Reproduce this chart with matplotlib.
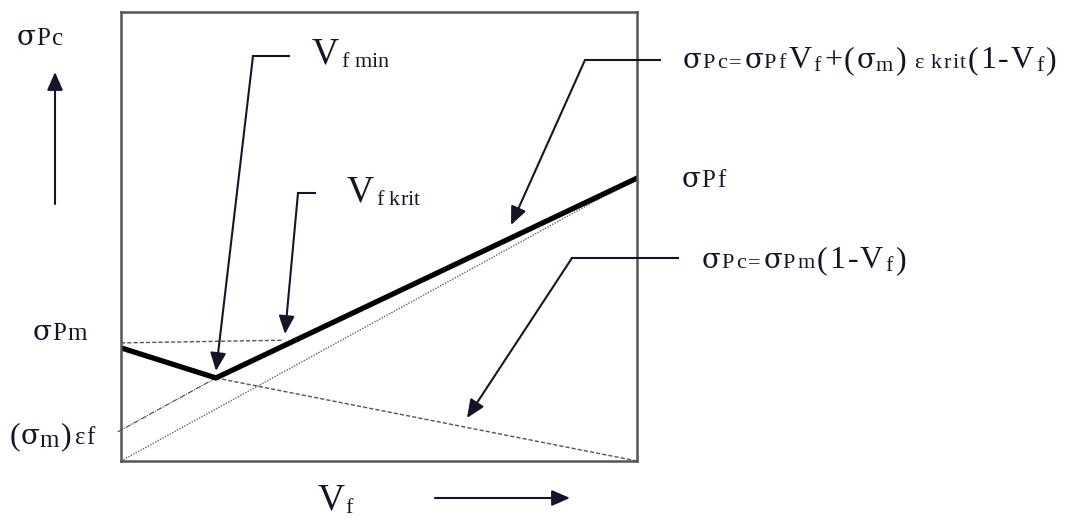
import matplotlib
matplotlib.use("Agg")
import matplotlib.pyplot as plt
from matplotlib.lines import Line2D

W, H = 1074, 519
ink = "#15152a"
serif = "Liberation Serif"
greek = "DejaVu Serif"

# normalised diagram values: Vf on x (0..1), stress on y (0..1)
sigma_pm = 0.263
sigma_pf = 0.630
sigma_m_eps_f = 0.069
vf_min = 0.184
sigma_at_min = 0.185
sigma_comp_start = 0.252
vf_krit = 0.312
sigma_krit = 0.269

composite_vf = [0.0, vf_min, 1.0]
composite_sigma = [sigma_comp_start, sigma_at_min, sigma_pf]
matrix_vf = [vf_min, 1.0]
matrix_sigma = [sigma_at_min, 0.0]
fibre_vf = [0.0, 1.0]
fibre_sigma = [0.0, sigma_pf]
eps_vf = [-0.006, vf_min]
eps_sigma = [sigma_m_eps_f - 0.004, sigma_at_min]
pm_vf = [0.0, vf_krit]
pm_sigma = [sigma_pm, sigma_krit]


def px(x, y):
    return x / W, 1 - y / H


fig = plt.figure(figsize=(W / 100, H / 100), dpi=100)
fig.patch.set_facecolor("white")
ax = fig.add_axes([121 / W, 1 - 461 / H, 516 / W, 449 / H])
ax.set_xlim(0, 1)
ax.set_ylim(0, 1)
ax.set_xticks([])
ax.set_yticks([])
for sp in ax.spines.values():
    sp.set_color("#555555")
    sp.set_linewidth(1.8)

ax.plot(fibre_vf, fibre_sigma, color="#666666", lw=1.0, ls=(0, (1, 1)))
ax.plot(matrix_vf, matrix_sigma, color="#555555", lw=1.0, ls=(0, (3, 1.5)))
ax.plot(pm_vf, pm_sigma, color="#555555", lw=1.0, ls=(0, (3, 1.5)))
ax.plot(eps_vf, eps_sigma, color="#444444", lw=0.8, ls=(0, (5, 1, 1, 1)), clip_on=False)
ax.plot(composite_vf, composite_sigma, color="black", lw=3.8, solid_joinstyle="miter")

arrow = dict(arrowstyle="-|>,head_length=0.55,head_width=0.24", mutation_scale=20,
             lw=1.5, color=ink, shrinkA=0, shrinkB=0)


def leader(tip, corner, end):
    fig.add_artist(Line2D([corner[0] / W, end[0] / W], [1 - corner[1] / H] * 2,
                          transform=fig.transFigure, color=ink, lw=1.5))
    ax.annotate("", xy=px(*tip), xycoords="figure fraction",
                xytext=px(*corner), textcoords="figure fraction",
                arrowprops=arrow, annotation_clip=False)


leader((216, 371), (253, 56), (289, 56))
leader((285, 334), (298, 193), (315, 193))
leader((511, 225), (585, 60), (660, 60))
leader((467, 418), (572, 258), (678, 258))

# axis direction arrows
ax.annotate("", xy=px(55, 72), xycoords="figure fraction",
            xytext=px(55, 204), textcoords="figure fraction",
            arrowprops=arrow, annotation_clip=False)
ax.annotate("", xy=px(570, 498), xycoords="figure fraction",
            xytext=px(435, 498), textcoords="figure fraction",
            arrowprops=arrow, annotation_clip=False)

renderer = fig.canvas.get_renderer()


def write(x, y, parts):
    # parts: (text, size, drop in px, extra tracking in px, gap before in px)
    for part in parts:
        s, size = part[0], part[1]
        dy = part[2] if len(part) > 2 else 0
        track = part[3] if len(part) > 3 else 0
        x += part[4] if len(part) > 4 else 0
        for ch in s:
            if ch == " ":
                x += 0.25 * size * 100 / 72
                continue
            fam = greek if ch in "σ" else serif
            t = fig.text(x / W, 1 - (y + dy) / H, ch, fontsize=size, family=fam,
                         color=ink, va="baseline", ha="left")
            x += t.get_window_extent(renderer).width + track


big, small, sig = 23, 16, 20
lab = 18

write(17, 45, [("σ", sig, 0, 0), ("Pc", lab, 0, 2)])
write(33, 340, [("σ", sig, 0, 0), ("Pm", lab, 0, 2)])
write(682, 187, [("σ", sig, 0, 0), ("Pf", lab, 0, 2)])
write(10, 444, [("(", big, 0, 0), ("σ", sig, 0, 0), ("m", lab, 3, 2),
                (")", big, 0, 3), ("εf", lab, 0, 1)])

write(312, 63, [("V", 27), ("f", 16, 4, 0, 2), (" min", 16, 4)])
write(347, 202, [("V", 27), ("f", 16, 3, 0, 2), (" krit", 16, 3)])
write(318, 510, [("V", 27), ("f", 16, 3)])

write(683, 68, [("σ", sig, 0, 0), ("Pc=", small, 0, 2.5), ("σ", sig, 0, 0), ("Pf", small, 0, 2.5),
                ("V", big, 0, 2), ("f", small, 3, 3), ("+(", big, 0, 2), ("σ", sig, 0, 0),
                ("m", small, 3, 3), (")", big, 0, 2), ("ε krit", small, 0, 1.5, 6),
                ("(1-V", big, 0, 2), ("f", small, 3, 3), (")", big, 0, 2)])
write(702, 268, [("σ", sig, 0, 0), ("Pc=", small, 0, 2.5), ("σ", sig, 0, 0), ("Pm", small, 0, 2.5),
                 ("(1-V", big, 0, 2), ("f", small, 3, 3), (")", big, 0, 2)])

fig.savefig("out.png", dpi=100, facecolor="white")
